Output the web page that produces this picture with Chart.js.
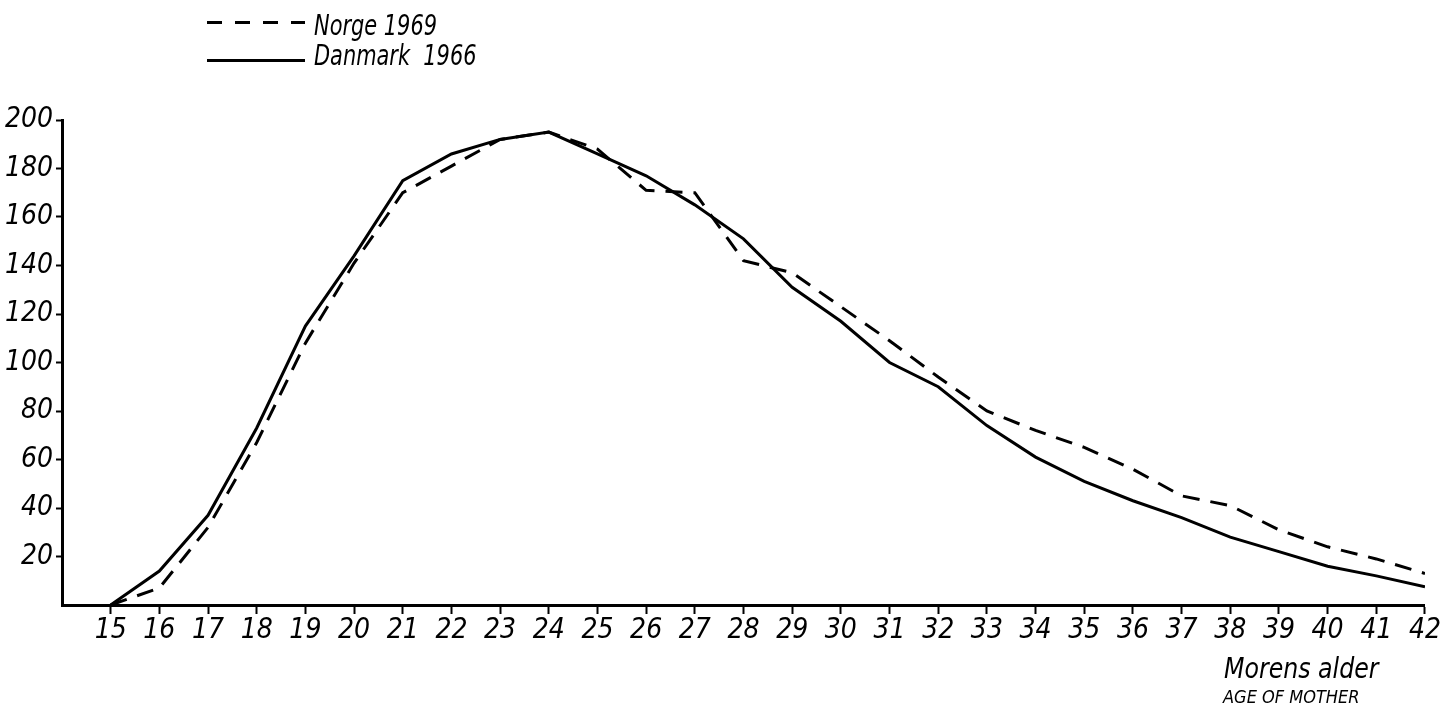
<!DOCTYPE html>
<html lang="no">
<head>
  <meta charset="UTF-8" />
  <title>Morens alder</title>
  <script src="https://cdn.jsdelivr.net/npm/chart.js"></script>
  <style>
    body { margin: 0; background: #fff; }
    .wrap { position: relative; width: 1441px; height: 703px; }
    .txt { position: absolute; font-family: "Liberation Sans Narrow", "DejaVu Sans Condensed", sans-serif; font-style: italic; color: #000; line-height: 1; white-space: pre; transform-origin: left top; }
    .key { position: absolute; left: 207px; width: 98px; height: 3px; }
    .key.dash { background: repeating-linear-gradient(to right, #000 0 15px, transparent 15px 28px); }
    .key.solid { background: #000; }
  </style>
</head>
<body>
<div class="wrap">
  <canvas id="chart"></canvas>
  <div class="key dash" style="top:21px"></div>
  <span class="txt" style="left:314px; top:12px; font-size:28px; transform:scaleX(0.83)">Norge 1969</span>
  <div class="key solid" style="top:59px"></div>
  <span class="txt" style="left:314px; top:42px; font-size:28px; transform:scaleX(0.83)">Danmark  1966</span>
  <span class="txt" style="left:1224px; top:655px; font-size:28px; transform:scaleX(0.94)">Morens alder</span>
  <span class="txt" style="left:1223px; top:688px; font-size:18px">AGE OF MOTHER</span>
</div>

<script>
  // fertility per 1000 women by age of mother
  const ageDanmark = [15,16,17,18,19,20,21,22,23,24,25,26,27,28,29,30,31,32,33,34,35,36,37,38,39,40,41,42];
  const danmark    = [0,14,37,73,115,144,175,186,192,195,186,177,165,151,131,117,100,90,74,61,51,43,36,28,22,16,12,7.5];

  const ageNorge = [15,16,17,18,19,20,21,22,23,24,25,26,27,28,28.6,29,30,31,32,33,34,35,36,37,38,39,40,41,42];
  const norge    = [0,7,32,67,108,141,170,181,192,195,188,171,170,142,139,137,123,109,94,80,72,65,56,45,41,31,24,19,13];

  const xMin = 14, xMax = 42;
  const yMin = 0, yMax = 200;

  const font = { family: '"Liberation Sans Narrow", "DejaVu Sans Condensed", sans-serif', style: 'italic', size: 28 };

  const toPoints = (xs, ys) => xs.map((x, i) => ({ x, y: ys[i] }));

  new Chart(document.getElementById('chart'), {
    type: 'line',
    data: {
      datasets: [
        { label: 'Danmark 1966', data: toPoints(ageDanmark, danmark), borderColor: '#000', borderWidth: 3, pointRadius: 0, tension: 0 },
        { label: 'Norge 1969', data: toPoints(ageNorge, norge), borderColor: '#000', borderWidth: 3, borderDash: [17, 11], pointRadius: 0, tension: 0 }
      ]
    },
    options: {
      responsive: true,
      maintainAspectRatio: false,
      animation: false,
      layout: { padding: { top: 120, right: 16, left: 0, bottom: 0 } },
      plugins: { legend: { display: false }, tooltip: { enabled: false } },
      scales: {
        x: {
          type: 'linear', min: xMin, max: xMax,
          ticks: { stepSize: 1, color: '#000', font, padding: 0, maxRotation: 0, autoSkip: false,
                   callback: v => v === xMin ? '' : v },
          grid: { drawOnChartArea: false, tickLength: 9, tickWidth: 2,
                  color: c => (c.tick && c.tick.value === xMin) ? 'rgba(0,0,0,0)' : '#000' },
          border: { color: '#000', width: 3 },
          afterFit: s => { s.height = 98; }
        },
        y: {
          min: yMin, max: yMax,
          ticks: { stepSize: 10, color: '#000', font, padding: 3,
                   callback: v => (v > 0 && v % 20 === 0) ? v : '' },
          grid: { drawOnChartArea: false, tickLength: 6, tickWidth: 2,
                  color: c => (c.tick && c.tick.value === yMin) ? 'rgba(0,0,0,0)' : '#000' },
          border: { color: '#000', width: 3 },
          afterFit: s => { s.width = 62; }
        }
      }
    }
  });
</script>
</body>
</html>
